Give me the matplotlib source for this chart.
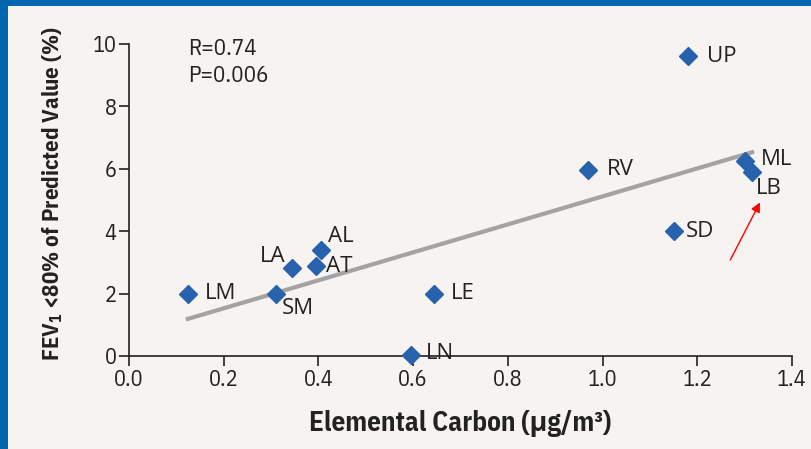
import matplotlib.pyplot as plt
from matplotlib.patches import Rectangle

plt.rcParams['mathtext.default'] = 'regular'

# site labels and values
sites = ['UP', 'RV', 'ML', 'LB', 'SD', 'AL', 'AT', 'LA', 'LM', 'SM', 'LE', 'LN']
carbon = [1.18, 0.97, 1.30, 1.315, 1.15, 0.405, 0.395, 0.345, 0.125, 0.31, 0.645, 0.595]
fev1_low = [9.6, 5.97, 6.25, 5.9, 4.0, 3.4, 2.88, 2.83, 2.0, 2.0, 2.0, 0.03]

# regression line end points
fit_x = [0.12, 1.32]
fit_y = [1.17, 6.55]

xticks = [0.0, 0.2, 0.4, 0.6, 0.8, 1.0, 1.2, 1.4]
yticks = [0, 2, 4, 6, 8, 10]

# label offsets in points (dx, dy, ha)
label_pos = {
    'UP': (14, 0, 'left'), 'RV': (13, 0, 'left'), 'ML': (12, 1, 'left'),
    'LB': (3, -12, 'left'), 'SD': (9, 0, 'left'), 'AL': (5, 10, 'left'),
    'AT': (7, 0, 'left'), 'LA': (-5, 8, 'right'), 'LM': (12, 0, 'left'),
    'SM': (4, -11, 'left'), 'LE': (12, 0, 'left'), 'LN': (11, 1, 'left'),
}

bg = '#F6F3F1'
blue = '#0066B0'
pt_color = '#2862AC'
txt = '#222222'
narrow = ['IBM Plex Sans Condensed', 'Open Sans', 'DejaVu Sans']

fig = plt.figure(figsize=(8.12, 4.49), dpi=100, facecolor=bg)

# slide frame
fig.patches.append(Rectangle((0, 1 - 6 / 449), 1, 6 / 449, transform=fig.transFigure,
                             facecolor=blue, edgecolor='none', zorder=0))
fig.patches.append(Rectangle((0, 0), 8 / 812, 1, transform=fig.transFigure,
                             facecolor=blue, edgecolor='none', zorder=0))

ax = fig.add_axes([129 / 812, 93 / 449, 663 / 812, 312 / 449])
ax.set_facecolor(bg)

ax.plot(fit_x, fit_y, color='#A3A3A3', lw=3, solid_capstyle='butt', zorder=2)
ax.plot(carbon, fev1_low, 'D', color=pt_color, ms=9.5, clip_on=False, zorder=3)

for name, x, y in zip(sites, carbon, fev1_low):
    dx, dy, ha = label_pos[name]
    ax.annotate(name, (x, y), xytext=(dx, dy), textcoords='offset points',
                ha=ha, va='center', fontsize=16, family='Open Sans', color=txt,
                zorder=4)

ax.text(0.125, 9.83, 'R=0.74', fontsize=16.5, family=narrow, va='center', color=txt)
ax.text(0.125, 8.98, 'P=0.006', fontsize=16.5, family=narrow, va='center', color=txt)

# red arrow pointing at LB
ax.annotate('', xy=(1.335, 5.0), xytext=(1.267, 3.0),
            arrowprops=dict(arrowstyle='-|>', color='red', lw=1, mutation_scale=14))

ax.set_xlim(0, 1.4)
ax.set_ylim(0, 10)
ax.set_xticks(xticks)
ax.set_xticklabels([f'{t:.1f}' for t in xticks], family=narrow, fontsize=16)
ax.set_yticks(yticks)
ax.set_yticklabels([str(t) for t in yticks], family=narrow, fontsize=16)
ax.tick_params(length=7, width=1.2, color=txt, labelcolor=txt, pad=2)

for s in ['top', 'right']:
    ax.spines[s].set_visible(False)
for s in ['left', 'bottom']:
    ax.spines[s].set_linewidth(1.2)
    ax.spines[s].set_color(txt)

ax.set_xlabel('Elemental Carbon (μg/m³)', family=narrow, fontsize=19.5,
              fontweight='bold', color=txt)
ax.xaxis.set_label_coords(0.5, -0.172)
ax.xaxis.label.set_va('top')
ax.set_ylabel('FEV$_1$ <80% of Predicted Value (%)', family=narrow, fontsize=16.5,
              fontweight='bold', color=txt)
ax.yaxis.set_label_coords(-0.097, 0.52)

fig.savefig('out.png', dpi=100, facecolor=bg)
